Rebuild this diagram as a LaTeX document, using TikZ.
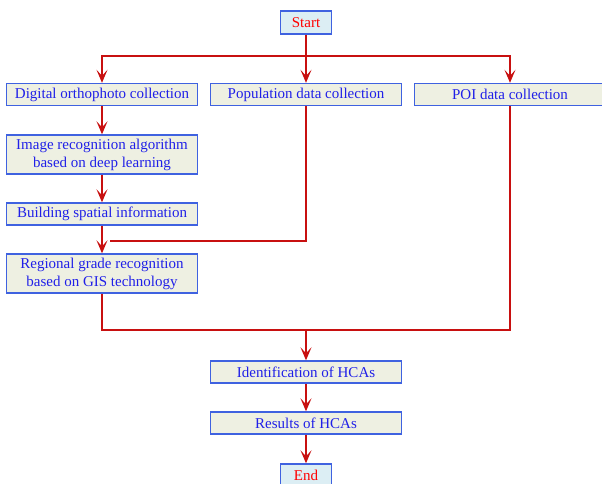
\documentclass[tikz,border=0pt]{standalone}
\usepackage{fontspec}
\setmainfont{Liberation Serif}
\usepackage{xcolor}
\usetikzlibrary{arrows.meta}

\definecolor{boxblue}{HTML}{3F62E0}
\definecolor{boxfill}{HTML}{EEF0E2}
\definecolor{termfill}{HTML}{DCEEF4}
\definecolor{txtblue}{HTML}{2020E8}
\definecolor{flowred}{HTML}{C81010}

\begin{document}
\begin{tikzpicture}[x=1pt,y=-1pt,
    procbox/.style={draw=boxblue, line width=1.4pt, fill=boxfill, text=txtblue,
        minimum width=191pt, minimum height=22pt, align=center, inner sep=1pt,
        font=\fontsize{15}{18}\selectfont},
    termbox/.style={procbox, fill=termfill, text=red, minimum width=51pt, minimum height=23pt},
    flow/.style={draw=flowred, line width=1.5pt, -{Stealth[length=13pt,width=11pt,inset=6pt]}},
    link/.style={draw=flowred, line width=1.5pt}]

\useasboundingbox (0,0) rectangle (602,484);

\def\colL{102} % left column
\def\colM{306} % middle column
\def\colR{510} % right column

% boxes
\node[termbox] (start) at (\colM,22.5) {Start};
\node[procbox] (digital) at (\colL,94.5) {Digital orthophoto collection};
\node[procbox] (pop) at (\colM,94.5) {Population data collection};
\node[procbox] (poi) at (\colR,94.5) {POI data collection};
\node[procbox, minimum height=39pt] (image) at (\colL,154.5)
    {Image recognition algorithm\\based on deep learning};
\node[procbox] (building) at (\colL,214) {Building spatial information};
\node[procbox, minimum height=39pt] (regional) at (\colL,273.5)
    {Regional grade recognition\\based on GIS technology};
\node[procbox] (ident) at (\colM,372) {Identification of HCAs};
\node[procbox] (results) at (\colM,423) {Results of HCAs};
\node[termbox] (end) at (\colM,475.5) {End};

% junction points
\coordinate (split) at (\colM,56);
\coordinate (join) at (110,241);
\coordinate (merge) at (\colM,330);

% connectors
\draw[flow] (start) -- (pop);
\draw[flow] (split) -| (digital);
\draw[flow] (split) -| (poi);
\foreach \a/\b in {digital/image, image/building, building/regional,
                   merge/ident, ident/results, results/end}
    \draw[flow] (\a) -- (\b);
\draw[link] (pop) |- (join);
\draw[link] (regional) |- (merge);
\draw[link] (poi) |- (merge);

\end{tikzpicture}
\end{document}
